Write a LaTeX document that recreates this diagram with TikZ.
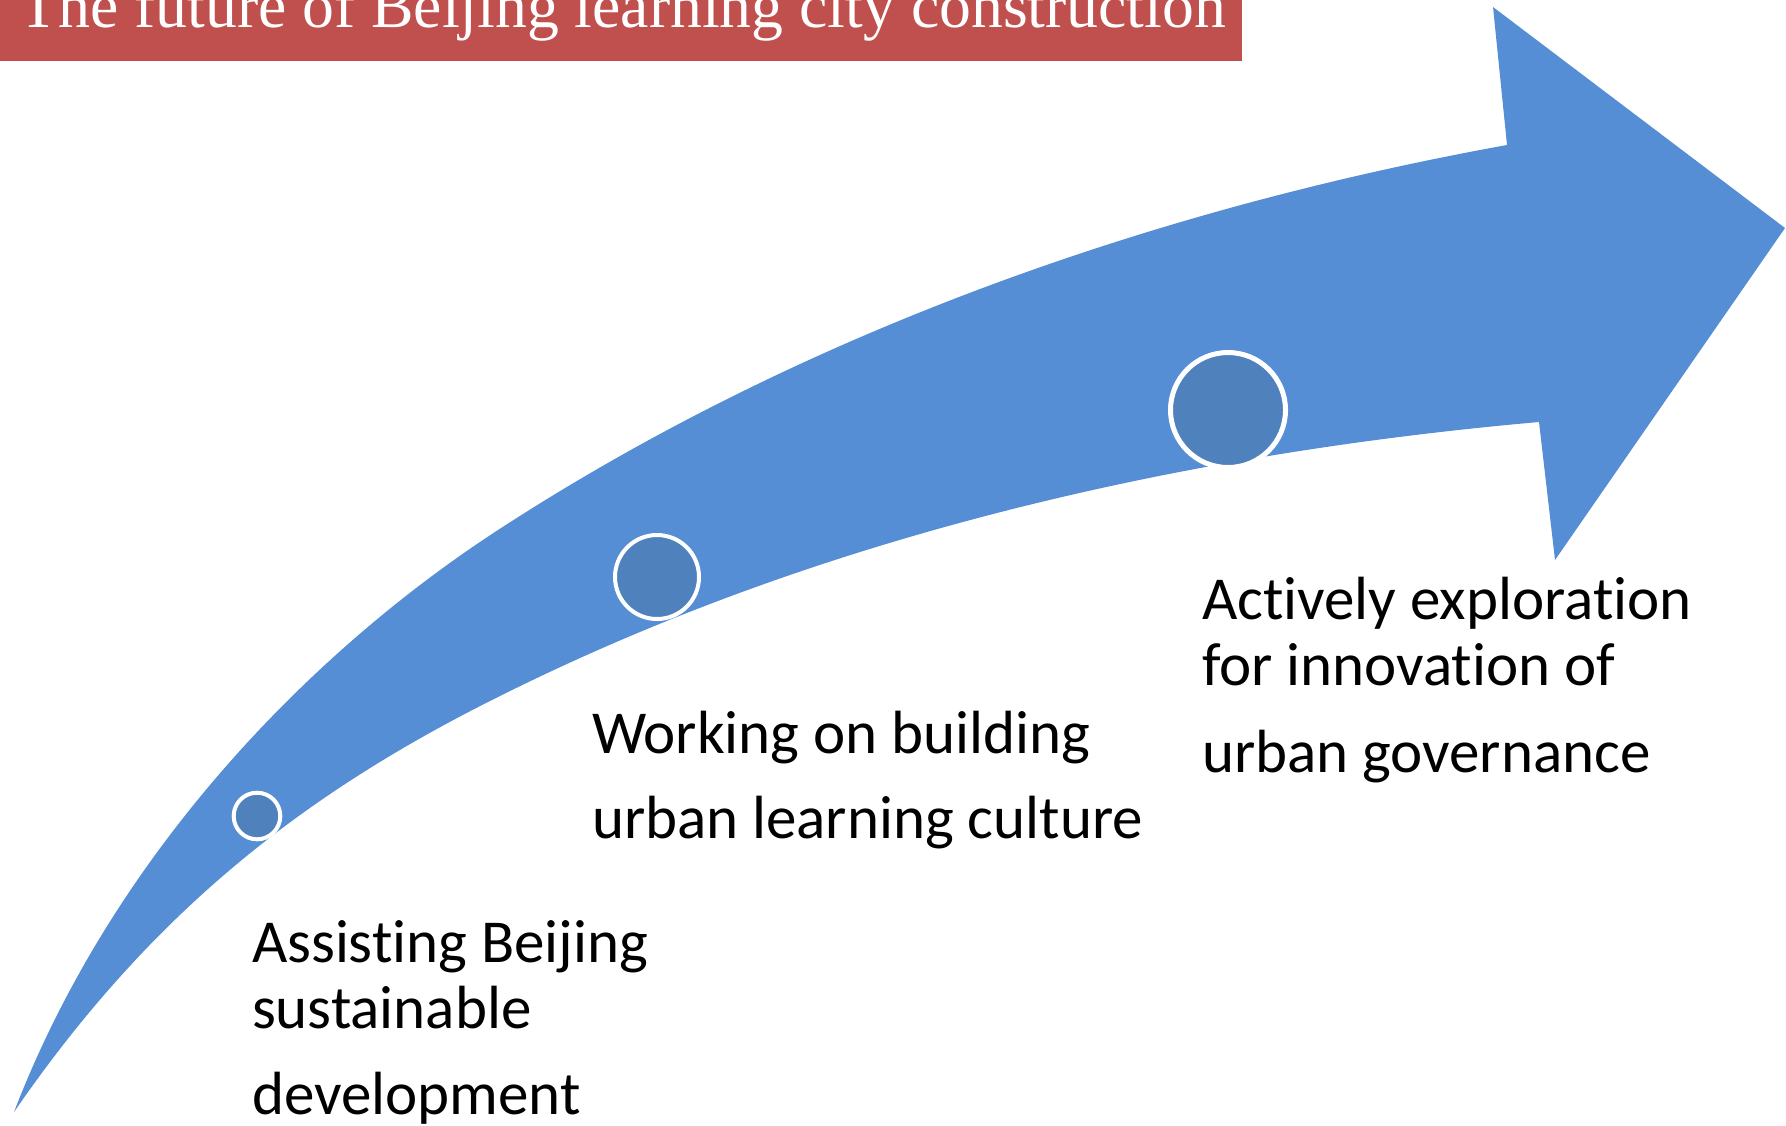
\documentclass[tikz,border=0pt]{standalone}
\usepackage{fontspec}
\setmainfont{Carlito}[Ligatures=NoCommon]
\newfontfamily\titlefont{Liberation Serif}
\definecolor{arrowblue}{RGB}{85,142,213}
\definecolor{dotblue}{RGB}{79,129,189}
\definecolor{titlered}{RGB}{192,80,77}
\tikzset{
  lbl/.style={anchor=base west, inner sep=0pt, outer sep=0pt, text=black, font=\fontsize{30.5}{36}\selectfont},
  dotc/.style={circle, fill=dotblue, draw=white, inner sep=0pt},
}
\begin{document}
\begin{tikzpicture}[x=0.5pt,y=-0.5pt]
\useasboundingbox (0,0) rectangle (1786,1125);
% title bar
\fill[titlered] (0,-20) rectangle (1242,61);
\node[anchor=base west, inner sep=0pt, text=white, font=\titlefont\fontsize{31.85}{36}\selectfont] (title) at (19,27) {The future of Beijing learning city construction};
% curved arrow
\coordinate (tail) at (14,1112);
\coordinate (umid) at (498,530);
\coordinate (ujoin) at (1507,145);
\coordinate (ubarb) at (1493,7);
\coordinate (tip) at (1785,228);
\coordinate (lbarb) at (1555,560);
\coordinate (ljoin) at (1539,422);
\coordinate (lmid) at (498,697);
\fill[arrowblue] (tail) .. controls (114.5,850.8) and (313.6,649.9) .. (umid)
  .. controls (799.7,333.8) and (1152.8,209.1) .. (ujoin)
  -- (ubarb) -- (tip) -- (lbarb) -- (ljoin)
  .. controls (1180.4,453.7) and (819.8,536) .. (lmid)
  .. controls (301,795) and (150,914.5) .. (tail) -- cycle;
% dots
\node[dotc, line width=2pt, minimum size=23.3pt] (c1) at (257,816) {};
\node[dotc, line width=2pt, minimum size=42pt] (c2) at (657,577) {};
\node[dotc, line width=2.5pt, minimum size=57.5pt] (c3) at (1228,410) {};
% labels
\node[lbl] (t1a) at (252,962) {Assisting Beijing};
\node[lbl] (t1b) at (252,1028) {sustainable};
\node[lbl] (t1c) at (252,1114) {development};
\node[lbl] (t2a) at (592,753) {Working on building};
\node[lbl] (t2b) at (592,838) {urban learning culture};
\node[lbl] (t3a) at (1202,619) {Actively exploration};
\node[lbl] (t3b) at (1202,685) {for innovation of};
\node[lbl] (t3c) at (1202,772) {urban governance};
\end{tikzpicture}
\end{document}
